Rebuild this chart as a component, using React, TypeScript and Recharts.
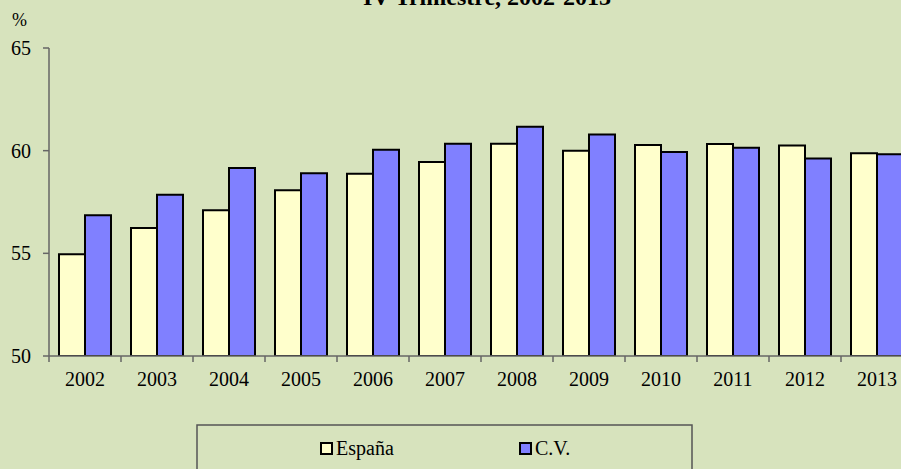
import React from "react";
import { BarChart, Bar, XAxis, YAxis } from "recharts";

const years = ["2002", "2003", "2004", "2005", "2006", "2007", "2008", "2009", "2010", "2011", "2012", "2013"];
const espana = [54.95, 56.23, 57.1, 58.07, 58.87, 59.45, 60.34, 60.0, 60.27, 60.32, 60.25, 59.88];
const cv = [56.86, 57.85, 59.16, 58.9, 60.05, 60.34, 61.17, 60.79, 59.94, 60.14, 59.62, 59.83];
const yTicks = [50, 55, 60, 65];

const series = [
  { key: "espana", name: "España", color: "#ffffcc", legendX: 321 },
  { key: "cv", name: "C.V.", color: "#8080ff", legendX: 520 },
];

const data = years.map((y, i) => ({ year: y, espana: espana[i], cv: cv[i] }));

const FONT = "'Liberation Serif', 'Times New Roman', serif";
const BG = "#d7e3bd";
const TICK_SIZE = 6;
const TICK_MARGIN = 10;

const YearTick = (props: any) => {
  const { x, y, payload } = props;
  const half = payload && payload.offset ? payload.offset : 36;
  const axisY = y - TICK_MARGIN - TICK_SIZE;
  return (
    <g>
      <line x1={x - half} x2={x - half} y1={axisY} y2={axisY + TICK_SIZE} stroke="#666" strokeWidth={1.5} />
      <text x={x} y={y} dy="0.71em" textAnchor="middle" fontFamily={FONT} fontSize={20} fill="#000">
        {payload.value}
      </text>
    </g>
  );
};

export default function App() {
  return (
    <div style={{ position: "fixed", left: 0, top: 0, width: 901, height: 469, overflow: "hidden", background: BG }}>
      <BarChart
        width={913}
        height={469}
        data={data}
        margin={{ top: 48, right: 0, left: 0, bottom: 83 }}
        barCategoryGap={10}
        barGap={0}
      >
        <XAxis
          dataKey="year"
          height={30}
          tickLine={false}
          tickSize={TICK_SIZE}
          tickMargin={TICK_MARGIN}
          axisLine={{ stroke: "#666", strokeWidth: 1.5 }}
          tick={<YearTick />}
          interval={0}
        />
        <YAxis
          width={49}
          domain={[50, 65]}
          ticks={yTicks}
          interval={0}
          tickSize={6}
          tickMargin={12}
          axisLine={{ stroke: "#666", strokeWidth: 1.5 }}
          tickLine={{ stroke: "#666", strokeWidth: 1.5 }}
          tick={{ fill: "#000", fontSize: 20, fontFamily: FONT }}
          allowDataOverflow
        />
        {series.map((s) => (
          <Bar
            key={s.key}
            dataKey={s.key}
            name={s.name}
            fill={s.color}
            stroke="#000"
            strokeWidth={2}
            isAnimationActive={false}
          />
        ))}
      </BarChart>
      <svg
        width={901}
        height={469}
        style={{ position: "absolute", left: 0, top: 0, pointerEvents: "none" }}
      >
        <text x={487} y={5} textAnchor="middle" fontFamily={FONT} fontWeight="bold" fontSize={24} fill="#000">
          IV Trimestre, 2002-2013
        </text>
        <text x={12} y={26} fontFamily={FONT} fontSize={18} fill="#000">%</text>
        <rect x={197} y={425} width={495} height={60} fill="none" stroke="#555" strokeWidth={1.5} />
        {series.map((s) => (
          <g key={s.key}>
            <rect x={s.legendX} y={443} width={11} height={11} fill={s.color} stroke="#000" strokeWidth={2} />
            <text x={s.legendX + 15} y={455} fontFamily={FONT} fontSize={20} fill="#000">{s.name}</text>
          </g>
        ))}
      </svg>
    </div>
  );
}
